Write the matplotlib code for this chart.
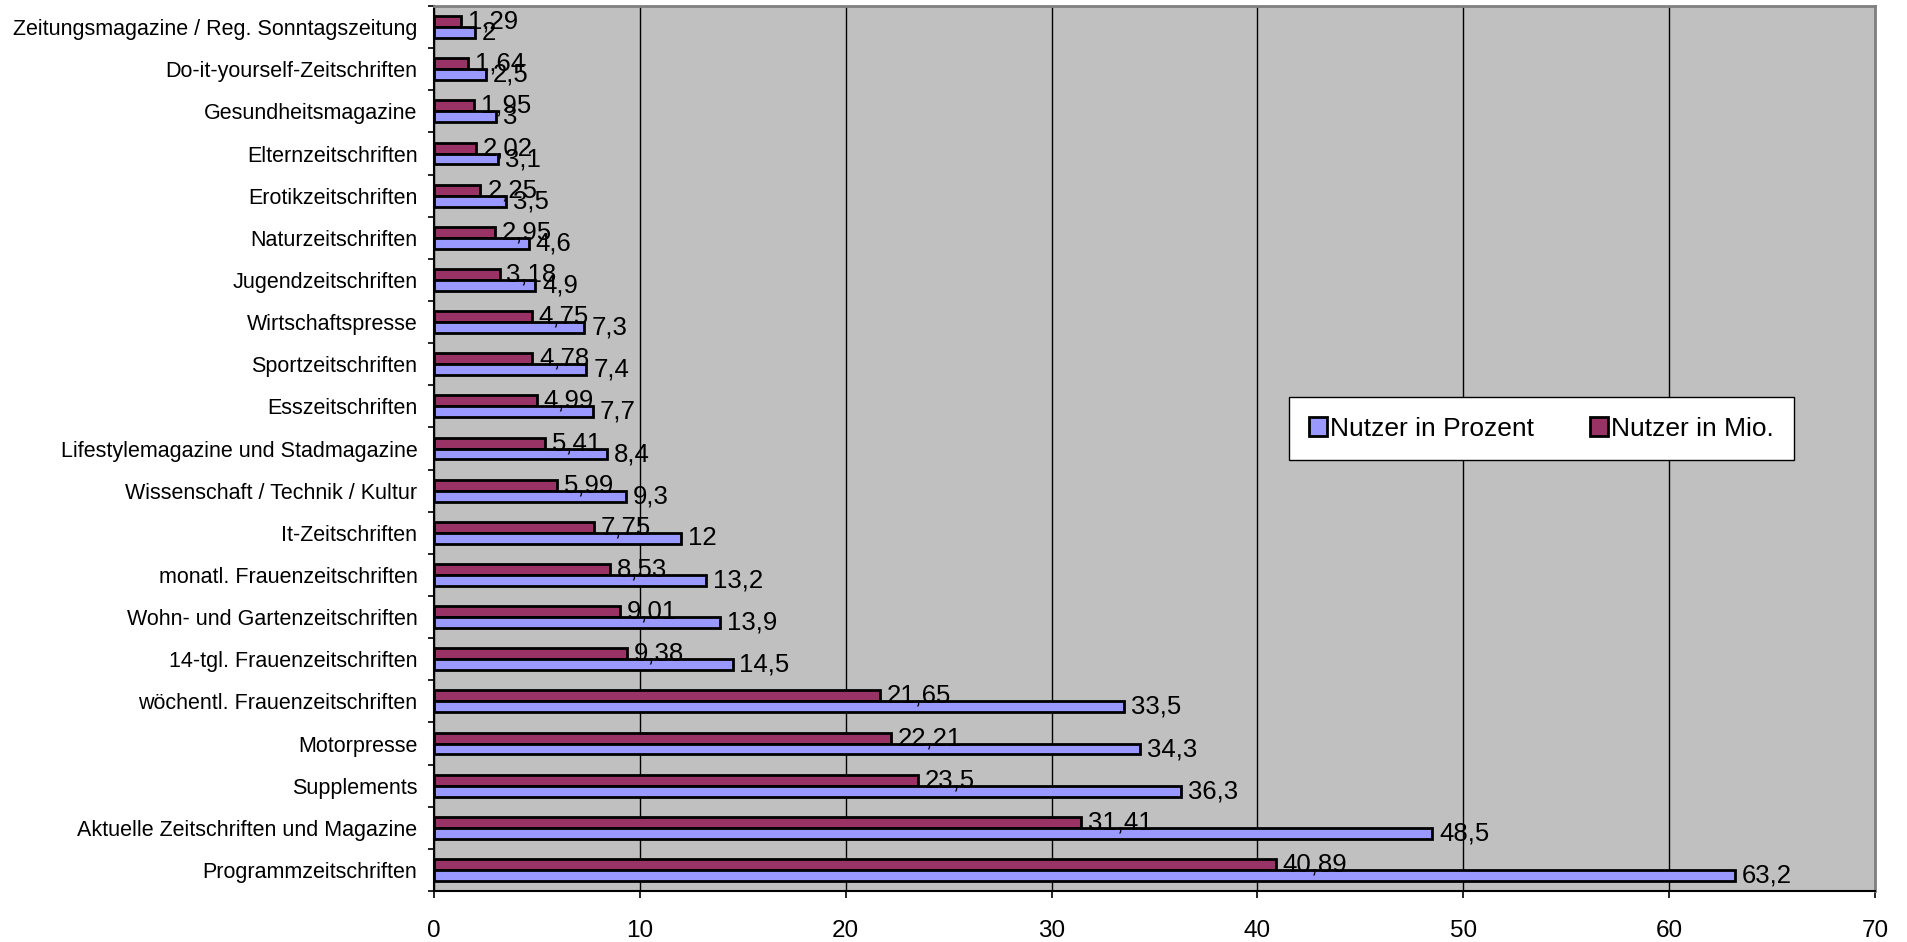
import numpy as np
import matplotlib
matplotlib.use("Agg")
import matplotlib.pyplot as plt
from matplotlib.patches import Patch

####DATA####
categories = [
    'Zeitungsmagazine / Reg. Sonntagszeitung',
    'Do-it-yourself-Zeitschriften',
    'Gesundheitsmagazine',
    'Elternzeitschriften',
    'Erotikzeitschriften',
    'Naturzeitschriften',
    'Jugendzeitschriften',
    'Wirtschaftspresse',
    'Sportzeitschriften',
    'Esszeitschriften',
    'Lifestylemagazine und Stadmagazine',
    'Wissenschaft / Technik / Kultur',
    'It-Zeitschriften',
    'monatl. Frauenzeitschriften',
    'Wohn- und Gartenzeitschriften',
    '14-tgl. Frauenzeitschriften',
    'wöchentl. Frauenzeitschriften',
    'Motorpresse',
    'Supplements',
    'Aktuelle Zeitschriften und Magazine',
    'Programmzeitschriften',
]
nutzer_mio = [1.29, 1.64, 1.95, 2.02, 2.25, 2.95, 3.18, 4.75, 4.78, 4.99, 5.41,
              5.99, 7.75, 8.53, 9.01, 9.38, 21.65, 22.21, 23.5, 31.41, 40.89]
nutzer_prozent = [2, 2.5, 3, 3.1, 3.5, 4.6, 4.9, 7.3, 7.4, 7.7, 8.4,
                  9.3, 12, 13.2, 13.9, 14.5, 33.5, 34.3, 36.3, 48.5, 63.2]
xticks = [0, 10, 20, 30, 40, 50, 60, 70]

####STYLE####
plt.rcParams['font.family'] = ['Liberation Sans', 'DejaVu Sans']
col_prozent = '#9999FF'
col_mio = '#993366'
bg = '#C0C0C0'


def de_fmt(v):
    return f"{v:g}".replace('.', ',')


####FIGURE####
fig = plt.figure(figsize=(19.08, 9.42), dpi=100)
ax = fig.add_axes([0.2275, 0.0541, 0.9827 - 0.2275, 0.9936 - 0.0541])
ax.set_facecolor(bg)

y = np.arange(len(categories))
h = 0.26
bars_mio = ax.barh(y - h / 2, nutzer_mio, height=h, color=col_mio,
                   edgecolor='black', linewidth=2, zorder=3)
bars_pro = ax.barh(y + h / 2, nutzer_prozent, height=h, color=col_prozent,
                   edgecolor='black', linewidth=2, zorder=3)

for bars, vals in ((bars_mio, nutzer_mio), (bars_pro, nutzer_prozent)):
    for b, v in zip(bars, vals):
        ax.annotate(de_fmt(v), (v, b.get_y() + b.get_height() / 2),
                    xytext=(5, 0), textcoords='offset points',
                    va='center', ha='left', fontsize=18.5, zorder=4)

ax.set_xlim(0, 70)
ax.set_ylim(len(categories) - 0.5, -0.5)
ax.set_xticks(xticks)
ax.set_xticklabels([str(t) for t in xticks])
ax.set_yticks(y)
ax.set_yticklabels(categories)
ax.set_yticks(np.arange(len(categories) + 1) - 0.5, minor=True)

ax.tick_params(axis='y', which='major', length=0, pad=12, labelsize=15.5)
ax.tick_params(axis='y', which='minor', length=4.5, width=1.2, color='black')
ax.tick_params(axis='x', which='major', length=5, width=1.2, pad=16, labelsize=17.5)

ax.grid(axis='x', color='black', linewidth=1, zorder=1)
ax.set_axisbelow(True)

for side in ('top', 'right'):
    ax.spines[side].set_color('#808080')
    ax.spines[side].set_linewidth(2)
for side in ('left', 'bottom'):
    ax.spines[side].set_color('black')
    ax.spines[side].set_linewidth(1.5)

handles = [Patch(facecolor=col_prozent, edgecolor='black', linewidth=2),
           Patch(facecolor=col_mio, edgecolor='black', linewidth=2)]
leg = fig.legend(handles, ['Nutzer in Prozent', 'Nutzer in Mio.'],
                 loc='center', bbox_to_anchor=(0.8079, 0.5451),
                 bbox_transform=fig.transFigure, ncol=2, fontsize=19,
                 frameon=True, fancybox=False, shadow=False,
                 handlelength=0.7, handleheight=0.7, handletextpad=0.12,
                 columnspacing=2.1, borderpad=0.75)
leg.get_frame().set_edgecolor('black')
leg.get_frame().set_linewidth(1)
leg.get_frame().set_facecolor('white')
leg.get_frame().set_alpha(1)

fig.savefig('out.png', dpi=100)
